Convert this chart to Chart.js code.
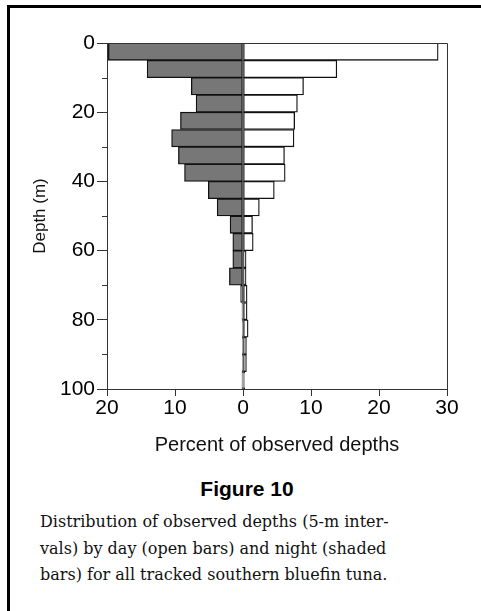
<!DOCTYPE html>
<html>
<head>
<meta charset="utf-8">
<script src="https://cdn.jsdelivr.net/npm/chart.js@4.4.1/dist/chart.umd.min.js"></script>
<style>
  html, body { margin: 0; padding: 0; background: #fff; }
  body { width: 481px; height: 611px; position: relative; overflow: hidden; }
  #frameTop { position: absolute; left: 7px; top: 5px; width: 474px; height: 3px; background: #000; }
  #frameLeft { position: absolute; left: 7px; top: 5px; width: 3px; height: 606px; background: #000; }
  #wrap { position: absolute; left: 0; top: 0; width: 481px; height: 470px; }
  #figTitle { position: absolute; left: 0; width: 494px; top: 477px; text-align: center;
    font: bold 21px "Liberation Sans", Arial, sans-serif; color: #000; }
  #caption { position: absolute; left: 40px; top: 509px; width: 440px;
    font: 16px "DejaVu Serif", serif; line-height: 26.5px; color: #111; white-space: nowrap; }
</style>
</head>
<body>
<div id="frameTop"></div>
<div id="frameLeft"></div>
<div id="wrap"><canvas id="depthChart"></canvas></div>
<div id="figTitle">Figure 10</div>
<div id="caption">Distribution of observed depths (5-m inter-<br>vals) by day (open bars) and night (shaded<br>bars) for all tracked southern bluefin tuna.</div>
<script>
    // 5-m depth bins (start of each interval)
    const binStart = [0, 5, 10, 15, 20, 25, 30, 35, 40, 45, 50, 55, 60, 65, 70, 75, 80, 85, 90, 95];
    // percent of observed depths, day = open bars, night = shaded bars
    const dayPct = [28.7, 13.8, 8.9, 8.0, 7.6, 7.5, 6.1, 6.2, 4.6, 2.4, 1.4, 1.5, 0.45, 0.45, 0.6, 0.6, 0.75, 0.5, 0.5, 0.25];
    const nightPct = [19.8, 14.1, 7.6, 6.9, 9.2, 10.5, 9.5, 8.6, 5.1, 3.8, 1.9, 1.5, 1.5, 2.0, 0.35, 0.15, 0.1, 0.1, 0.1, 0.15];
    const depthTicks = [0, 20, 40, 60, 80, 100];
    const minorDepthTicks = [10, 30, 50, 70, 90];
    const pctTicks = [-20, -10, 0, 10, 20, 30];

    const axisColor = '#333';

    // draws the top/right lines of the plot box and the short unlabelled depth ticks
    const boxPlugin = {
        id: 'boxPlugin',
        afterDraw(chart) {
            const ctx = chart.ctx;
            const area = chart.chartArea;
            const y = chart.scales.y;
            ctx.save();
            ctx.strokeStyle = axisColor;
            ctx.lineWidth = 1;
            ctx.beginPath();
            ctx.moveTo(area.left, area.top + 0.5);
            ctx.lineTo(area.right + 0.5, area.top + 0.5);
            ctx.lineTo(area.right + 0.5, area.bottom);
            minorDepthTicks.forEach(v => {
                const py = Math.round(y.getPixelForValue(v)) + 0.5;
                ctx.moveTo(area.left - 5, py);
                ctx.lineTo(area.left, py);
            });
            ctx.stroke();
            ctx.restore();
        }
    };

    function initChart() {
        const ctx = document.getElementById('depthChart').getContext('2d');

        const config = {
            type: 'bar',
            data: {
                datasets: [{
                    label: 'Night',
                    data: binStart.map((d, i) => ({ x: -nightPct[i], y: d + 2.5 })),
                    backgroundColor: '#777',
                    borderColor: '#111',
                    borderWidth: 1.3,
                    borderSkipped: false
                }, {
                    label: 'Day',
                    data: binStart.map((d, i) => ({ x: dayPct[i], y: d + 2.5 })),
                    backgroundColor: '#fff',
                    borderColor: '#111',
                    borderWidth: 1.3,
                    borderSkipped: false
                }]
            },
            options: {
                indexAxis: 'y',
                responsive: true,
                maintainAspectRatio: false,
                animation: false,
                grouped: false,
                barPercentage: 1,
                categoryPercentage: 1,
                layout: { padding: { top: 43, right: 34, left: 0, bottom: 0 } },
                scales: {
                    x: {
                        type: 'linear',
                        min: -20,
                        max: 30,
                        afterBuildTicks: (scale) => { scale.ticks = pctTicks.map(v => ({ value: v })); },
                        afterFit: (scale) => { scale.height = 81; },
                        border: { color: axisColor, width: 1 },
                        grid: { drawOnChartArea: false, drawTicks: true, tickLength: 7, color: axisColor, tickColor: axisColor },
                        ticks: {
                            padding: 0,
                            color: '#000',
                            font: { family: '"Liberation Sans", Arial, sans-serif', size: 21 },
                            callback: (value) => Math.abs(value)
                        },
                        title: {
                            display: true,
                            text: 'Percent of observed depths',
                            color: '#111',
                            font: { family: '"Liberation Sans", Arial, sans-serif', size: 20 },
                            padding: { top: 0, bottom: 13 }
                        }
                    },
                    y: {
                        type: 'linear',
                        min: 0,
                        max: 100,
                        reverse: true,
                        offset: false,
                        afterBuildTicks: (scale) => { scale.ticks = depthTicks.map(v => ({ value: v })); },
                        afterFit: (scale) => { scale.width = 107; },
                        border: { color: axisColor, width: 1 },
                        grid: { offset: false, drawOnChartArea: false, drawTicks: true, tickLength: 10, color: axisColor, tickColor: axisColor },
                        ticks: {
                            padding: 2,
                            color: '#000',
                            font: { family: '"Liberation Sans", Arial, sans-serif', size: 21 }
                        },
                        title: {
                            display: true,
                            text: 'Depth (m)',
                            color: '#111',
                            font: { family: '"Liberation Sans", Arial, sans-serif', size: 17 },
                            padding: { top: 30, bottom: 0 }
                        }
                    }
                },
                plugins: {
                    legend: { display: false },
                    tooltip: { enabled: false }
                }
            },
            plugins: [boxPlugin]
        };

        new Chart(ctx, config);
    }

    document.addEventListener('DOMContentLoaded', initChart);
</script>
</body>
</html>
